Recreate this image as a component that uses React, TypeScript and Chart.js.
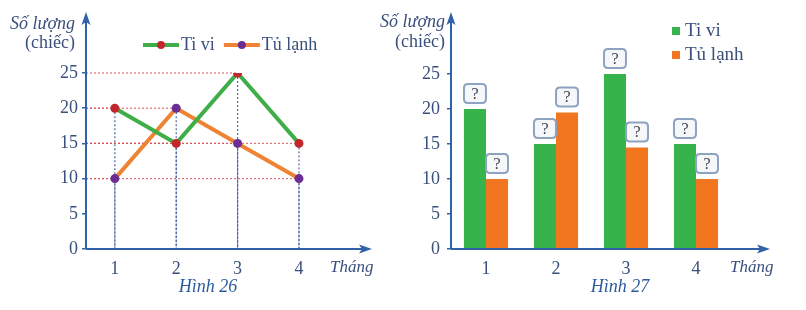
import { useEffect, useRef } from "react";
import { Chart, registerables } from "chart.js";
Chart.register(...registerables);

// ---- data ----
const monthLabels = ["1", "2", "3", "4"];
const monthValues = [1, 2, 3, 4];
const tiviLine = [20, 15, 25, 15];
const tuLanhLine = [10, 20, 15, 10];
const tiviBars = [20, 15, 25, 15];
const tuLanhBars = [10, 19.5, 14.5, 10];
const yTickValues = [0, 5, 10, 15, 20, 25];
const seriesNames = ["Ti vi", "Tủ lạnh"];
const yTitleLines = ["Số lượng", "(chiếc)"];
const xTitle = "Tháng";
const captions = ["Hình 26", "Hình 27"];
const boxMark = "?";

// ---- style ----
const SERIF = '"Liberation Serif", "DejaVu Serif", serif';
const AXIS = "#2f62a8";
const TEXT = "#3a507c";
const CAPTION = "#2d5c9c";
const GREEN_LINE = "#3fae49";
const ORANGE_LINE = "#ef8334";
const GREEN_BAR = "#36b34a";
const ORANGE_BAR = "#f2761f";
const RED_DOT = "#c3262c";
const PURPLE_DOT = "#6b2d92";

type Deco = {
  topExt: number;
  rightExt: number;
  yTitleDx: number;
  yTitleY: [number, number];
  xTitleDx: number;
};

function axesPlugin(id: string, d: Deco) {
  return {
    id,
    afterDatasetsDraw(chart: any) {
      const { ctx, chartArea } = chart;
      const { left, bottom, top, right } = chartArea;
      const yTip = top - d.topExt;
      const xTip = right + d.rightExt;
      ctx.save();
      ctx.strokeStyle = AXIS;
      ctx.fillStyle = AXIS;
      ctx.lineWidth = 2;
      ctx.beginPath();
      ctx.moveTo(left, bottom);
      ctx.lineTo(left, yTip + 6);
      ctx.moveTo(left, bottom);
      ctx.lineTo(xTip - 6, bottom);
      ctx.stroke();
      ctx.beginPath();
      ctx.moveTo(left, yTip);
      ctx.lineTo(left - 4.5, yTip + 13);
      ctx.lineTo(left, yTip + 10);
      ctx.lineTo(left + 4.5, yTip + 13);
      ctx.closePath();
      ctx.fill();
      ctx.beginPath();
      ctx.moveTo(xTip, bottom);
      ctx.lineTo(xTip - 13, bottom - 4.5);
      ctx.lineTo(xTip - 10, bottom);
      ctx.lineTo(xTip - 13, bottom + 4.5);
      ctx.closePath();
      ctx.fill();
      ctx.restore();
    },
    afterDraw(chart: any) {
      const { ctx, chartArea } = chart;
      ctx.save();
      ctx.fillStyle = TEXT;
      ctx.textBaseline = "middle";
      ctx.textAlign = "right";
      ctx.font = `italic 18px ${SERIF}`;
      ctx.fillText(yTitleLines[0], chartArea.left + d.yTitleDx, d.yTitleY[0]);
      ctx.font = `18px ${SERIF}`;
      ctx.fillText(yTitleLines[1], chartArea.left + d.yTitleDx, d.yTitleY[1]);
      ctx.textAlign = "left";
      ctx.font = `italic 17px ${SERIF}`;
      ctx.fillText(xTitle, chartArea.right + d.xTitleDx, chartArea.bottom + 19);
      ctx.restore();
    },
  };
}

function captionPlugin(id: string, text: string, x: number) {
  return {
    id,
    afterDraw(chart: any) {
      const { ctx } = chart;
      ctx.save();
      ctx.fillStyle = CAPTION;
      ctx.font = `italic 18px ${SERIF}`;
      ctx.textAlign = "center";
      ctx.textBaseline = "middle";
      ctx.fillText(text, x, 287);
      ctx.restore();
    },
  };
}

const dropLinesPlugin = {
  id: "dropLines",
  beforeDatasetsDraw(chart: any) {
    const { ctx, chartArea } = chart;
    ctx.save();
    ctx.lineWidth = 1.2;
    ctx.setLineDash([2, 2]);
    chart.data.datasets.forEach((_: any, di: number) => {
      const meta = chart.getDatasetMeta(di);
      meta.data.forEach((p: any) => {
        ctx.strokeStyle = "rgba(214,80,90,0.8)";
        ctx.beginPath();
        ctx.moveTo(chartArea.left, p.y);
        ctx.lineTo(p.x, p.y);
        ctx.stroke();
        ctx.strokeStyle = "rgba(50,80,150,0.85)";
        ctx.beginPath();
        ctx.moveTo(p.x, p.y);
        ctx.lineTo(p.x, chartArea.bottom);
        ctx.stroke();
      });
    });
    ctx.restore();
  },
};

const lineLegendPlugin = {
  id: "lineLegend",
  afterDraw(chart: any) {
    const { ctx } = chart;
    ctx.save();
    ctx.font = `18px ${SERIF}`;
    ctx.textBaseline = "middle";
    let x = 143;
    const y = 45;
    chart.data.datasets.forEach((ds: any) => {
      ctx.strokeStyle = ds.borderColor;
      ctx.lineWidth = 4;
      ctx.beginPath();
      ctx.moveTo(x, y);
      ctx.lineTo(x + 36, y);
      ctx.stroke();
      ctx.fillStyle = ds.pointBackgroundColor;
      ctx.beginPath();
      ctx.arc(x + 18, y, 4, 0, Math.PI * 2);
      ctx.fill();
      ctx.fillStyle = TEXT;
      ctx.fillText(ds.label, x + 38, y);
      x += 38 + ctx.measureText(ds.label).width + 9;
    });
    ctx.restore();
  },
};

const barLegendPlugin = {
  id: "barLegend",
  afterDraw(chart: any) {
    const { ctx } = chart;
    ctx.save();
    ctx.font = `19px ${SERIF}`;
    ctx.textBaseline = "middle";
    chart.data.datasets.forEach((ds: any, i: number) => {
      const y = 31 + i * 24;
      ctx.fillStyle = ds.backgroundColor;
      ctx.fillRect(312, y - 4, 8, 8);
      ctx.fillStyle = TEXT;
      ctx.fillText(ds.label, 325, y);
    });
    ctx.restore();
  },
};

function roundRect(ctx: any, x: number, y: number, w: number, h: number, r: number) {
  ctx.beginPath();
  ctx.moveTo(x + r, y);
  ctx.lineTo(x + w - r, y);
  ctx.quadraticCurveTo(x + w, y, x + w, y + r);
  ctx.lineTo(x + w, y + h - r);
  ctx.quadraticCurveTo(x + w, y + h, x + w - r, y + h);
  ctx.lineTo(x + r, y + h);
  ctx.quadraticCurveTo(x, y + h, x, y + h - r);
  ctx.lineTo(x, y + r);
  ctx.quadraticCurveTo(x, y, x + r, y);
  ctx.closePath();
}

const questionBoxPlugin = {
  id: "questionBoxes",
  afterDatasetsDraw(chart: any) {
    const { ctx } = chart;
    ctx.save();
    chart.data.datasets.forEach((_: any, di: number) => {
      chart.getDatasetMeta(di).data.forEach((bar: any) => {
        const w = 22;
        const h = 19;
        const x = bar.x - w / 2;
        const y = bar.y - 6 - h;
        roundRect(ctx, x, y, w, h, 4);
        ctx.fillStyle = "#f6f7f9";
        ctx.fill();
        ctx.strokeStyle = "#8ea2c2";
        ctx.lineWidth = 2;
        ctx.stroke();
        ctx.fillStyle = "#404652";
        ctx.font = `16px ${SERIF}`;
        ctx.textAlign = "center";
        ctx.textBaseline = "middle";
        ctx.fillText(boxMark, bar.x, y + h / 2 + 1);
      });
    });
    ctx.restore();
  },
};

const tickFont = { family: SERIF, size: 18 };

export default function App() {
  const lineRef = useRef<HTMLCanvasElement>(null);
  const barRef = useRef<HTMLCanvasElement>(null);

  useEffect(() => {
    const lineChart = new Chart(lineRef.current!, {
      type: "line",
      data: {
        datasets: [
          {
            label: seriesNames[0],
            data: monthValues.map((m, i) => ({ x: m, y: tiviLine[i] })),
            borderColor: GREEN_LINE,
            borderWidth: 4,
            pointBackgroundColor: RED_DOT,
            pointBorderWidth: 0,
            pointRadius: 4.5,
            tension: 0,
          },
          {
            label: seriesNames[1],
            data: monthValues.map((m, i) => ({ x: m, y: tuLanhLine[i] })),
            borderColor: ORANGE_LINE,
            borderWidth: 4,
            pointBackgroundColor: PURPLE_DOT,
            pointBorderWidth: 0,
            pointRadius: 4.5,
            tension: 0,
          },
        ],
      },
      options: {
        animation: false,
        responsive: false,
        layout: { padding: { left: 0, right: 28, top: 73, bottom: 0 } },
        plugins: { legend: { display: false }, tooltip: { enabled: false } },
        scales: {
          x: {
            type: "linear",
            min: 0.53,
            max: 5.19,
            afterBuildTicks: (s: any) => {
              s.ticks = monthValues.map((v) => ({ value: v }));
            },
            afterFit: (s: any) => {
              s.height = 61;
            },
            grid: { display: false, drawTicks: false },
            border: { display: false },
            ticks: {
              font: tickFont,
              color: TEXT,
              padding: 9,
              callback: (v: any) => monthLabels[monthValues.indexOf(Number(v))],
            },
          },
          y: {
            min: 0,
            max: 25,
            afterBuildTicks: (s: any) => {
              s.ticks = yTickValues.map((v) => ({ value: v }));
            },
            afterFit: (s: any) => {
              s.width = 86;
            },
            grid: { drawOnChartArea: false, tickLength: 4, color: AXIS, lineWidth: 1.5 },
            border: { display: false },
            ticks: { font: tickFont, color: TEXT, padding: 4 },
          },
        },
      },
      plugins: [
        dropLinesPlugin,
        axesPlugin("axesL", {
          topExt: 61,
          rightExt: 0,
          yTitleDx: -11,
          yTitleY: [24, 43],
          xTitleDx: -42,
        }),
        lineLegendPlugin,
        captionPlugin("capL", captions[0], 208),
      ],
    } as any);

    const barChart = new Chart(barRef.current!, {
      type: "bar",
      data: {
        labels: monthLabels,
        datasets: [
          { label: seriesNames[0], data: tiviBars, backgroundColor: GREEN_BAR },
          { label: seriesNames[1], data: tuLanhBars, backgroundColor: ORANGE_BAR },
        ],
      },
      options: {
        animation: false,
        responsive: false,
        layout: { padding: { left: 0, right: 75, top: 74, bottom: 0 } },
        datasets: { bar: { barPercentage: 1, categoryPercentage: 0.63 } },
        plugins: { legend: { display: false }, tooltip: { enabled: false } },
        scales: {
          x: {
            afterFit: (s: any) => {
              s.height = 61;
            },
            grid: { display: false, drawTicks: false },
            border: { display: false },
            ticks: { font: tickFont, color: TEXT, padding: 9 },
          },
          y: {
            min: 0,
            max: 25,
            afterBuildTicks: (s: any) => {
              s.ticks = yTickValues.map((v) => ({ value: v }));
            },
            afterFit: (s: any) => {
              s.width = 91;
            },
            grid: { drawOnChartArea: false, tickLength: 4, color: AXIS, lineWidth: 1.5 },
            border: { display: false },
            ticks: { font: tickFont, color: TEXT, padding: 7 },
          },
        },
      },
      plugins: [
        questionBoxPlugin,
        axesPlugin("axesR", {
          topExt: 62,
          rightExt: 39,
          yTitleDx: -6,
          yTitleY: [22, 42],
          xTitleDx: -1,
        }),
        barLegendPlugin,
        captionPlugin("capR", captions[1], 260),
      ],
    } as any);

    return () => {
      lineChart.destroy();
      barChart.destroy();
    };
  }, []);

  return (
    <div style={{ position: "absolute", left: 0, top: 0, width: 806, height: 310, background: "#fff" }}>
      <canvas
        ref={lineRef}
        width={400}
        height={310}
        style={{ position: "absolute", left: 0, top: 0, width: 400, height: 310 }}
      />
      <canvas
        ref={barRef}
        width={446}
        height={310}
        style={{ position: "absolute", left: 360, top: 0, width: 446, height: 310 }}
      />
    </div>
  );
}
